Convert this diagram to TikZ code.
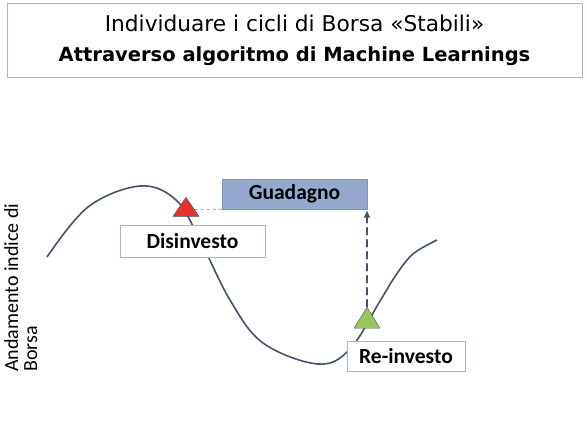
\documentclass[tikz,border=0pt]{standalone}
\usepackage{fontspec}
\setmainfont{Carlito}
\newfontfamily\titlefont{DejaVu Sans}
\usetikzlibrary{shapes.geometric,arrows.meta}

\definecolor{lineblue}{HTML}{44546A}
\definecolor{boxedge}{HTML}{A7B6CE}
\definecolor{gainfill}{HTML}{95A9CF}
\definecolor{gainedge}{HTML}{8095BD}
\definecolor{sellred}{HTML}{E8312A}
\definecolor{buygreen}{HTML}{98C65A}

\begin{document}
\begin{tikzpicture}[
  x=1pt, y=-1pt,
  titlebox/.style={
    draw=boxedge,
    rectangle,
    align=center,
    minimum width=575pt,
    minimum height=74pt,
    font=\titlefont\fontsize{21.7}{30}\selectfont
  },
  labelbox/.style={
    draw=boxedge,
    fill=white,
    rectangle,
    align=center,
    inner sep=0pt,
    font=\bfseries\fontsize{21.5}{22}\selectfont
  },
  gainbox/.style={
    draw=gainedge,
    fill=gainfill,
    rectangle,
    align=center,
    inner sep=0pt,
    minimum width=145pt,
    minimum height=30pt,
    font=\bfseries\fontsize{21.5}{22}\selectfont
  },
  marker/.style={
    draw=lineblue,
    isosceles triangle,
    isosceles triangle stretches,
    shape border rotate=90,
    minimum width=26pt,
    inner sep=0pt
  },
  curve/.style={lineblue, line width=1.6pt},
  gainarrow/.style={-{Triangle[width=6pt,length=7pt]}, lineblue, line width=1.8pt,
    dash pattern=on 7pt off 5pt, line cap=round}
]
\useasboundingbox (0,0) rectangle (587,421);

% Title.
\node[titlebox] (title) at (294.5,40) {Individuare i cicli di Borsa «Stabili»\\{\fontsize{19.5}{30}\selectfont\bfseries Attraverso algoritmo di Machine Learnings}};

% Axis label.
\node[rotate=90, align=left, anchor=north west, inner sep=0pt, font=\fontsize{20}{19}\selectfont] (axis) at (4,372) {Andamento indice di\\Borsa};

% Market index curve.
\draw[curve] plot[smooth, tension=0.6] coordinates {
  (47,257) (88,207) (140,186) (176,200) (200,240) (230,300)
  (263,343) (318,364) (350,349) (380,301) (396,275) (413,254) (437,240)};

% Gain box and markers.
\node[gainbox] (gain) at (294.5,194) {Guadagno};
\node[marker, fill=sellred, minimum height=19pt] (sell) at (186,209.5) {};
\node[marker, fill=buygreen, minimum height=21pt] (buy) at (367,321) {};

% Labels on the curve.
\node[labelbox, minimum width=145pt, minimum height=32pt] (exit) at (192.5,241) {Disinvesto};
\node[labelbox, minimum width=118pt, minimum height=30pt] (entry) at (406,356) {Re-investo};

% Connectors.
\draw[gray, dashed, line width=0.6pt] (sell) -- (gain.south west);
\draw[gainarrow, shorten >=1.5pt] (buy.apex) -- (buy.apex |- gain.south);

\end{tikzpicture}
\end{document}
